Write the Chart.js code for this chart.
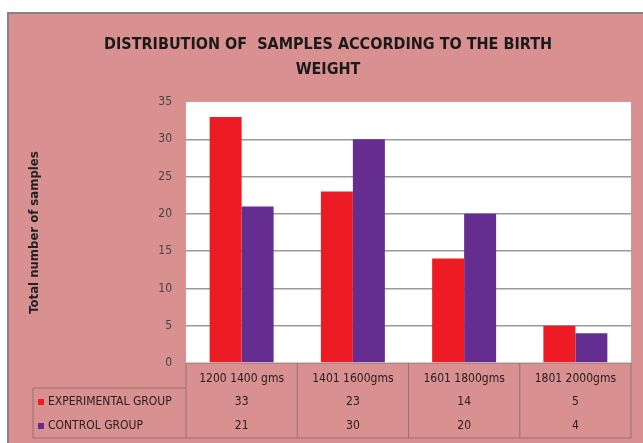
<html>
<head>
  <meta charset="utf-8"/>
  <title>Distribution of samples according to the birth weight</title>
  <script src="https://cdn.jsdelivr.net/npm/chart.js"></script>
  <style>
    body { margin: 0; background: #ffffff; }
    .chart-container { width: 643px; height: 443px; }
  </style>
</head>
<body>
  <div class="chart-container">
    <canvas id="birthChart"></canvas>
  </div>
  <script>
    const categories = ['1200 1400 gms', '1401 1600gms', '1601 1800gms', '1801 2000gms'];
    const experimentalGroup = [33, 23, 14, 5];
    const controlGroup = [21, 30, 20, 4];
    const seriesNames = ['EXPERIMENTAL GROUP', 'CONTROL GROUP'];

    const FONT = '"Liberation Sans Narrow", "DejaVu Sans Condensed", sans-serif';
    const PINK = 'rgb(216,144,144)';
    const RED = 'rgb(237,28,36)';
    const PURPLE = 'rgb(102,45,145)';

    // background, white plot area
    const backdrop = {
      id: 'backdrop',
      beforeDraw(chart) {
        const ctx = chart.ctx;
        const a = chart.chartArea;
        ctx.save();
        ctx.fillStyle = '#ffffff';
        ctx.fillRect(0, 0, chart.width, chart.height);
        ctx.fillStyle = PINK;
        ctx.fillRect(8, 13, chart.width - 8, chart.height - 13);
        ctx.strokeStyle = '#8a8080';
        ctx.lineWidth = 2;
        ctx.beginPath();
        ctx.moveTo(8, chart.height);
        ctx.lineTo(8, 13);
        ctx.lineTo(chart.width, 13);
        ctx.stroke();
        ctx.fillStyle = '#ffffff';
        ctx.fillRect(a.left, a.top, a.right - a.left, a.bottom - a.top);
        ctx.restore();
      }
    };

    // data table under the plot
    const dataTable = {
      id: 'dataTable',
      afterDraw(chart) {
        const ctx = chart.ctx;
        const a = chart.chartArea;
        const x = chart.scales.x;
        const colW = (a.right - a.left) / categories.length;
        const top = a.bottom, row1 = top + 25, bottom = top + 75, legendLeft = 33;
        ctx.save();
        ctx.strokeStyle = 'rgba(110,90,90,0.55)';
        ctx.lineWidth = 1;
        ctx.beginPath();
        ctx.moveTo(a.left, top); ctx.lineTo(a.right, top);
        ctx.moveTo(legendLeft, row1); ctx.lineTo(a.left, row1);
        ctx.moveTo(legendLeft, bottom); ctx.lineTo(a.right, bottom);
        ctx.moveTo(legendLeft, row1); ctx.lineTo(legendLeft, bottom);
        for (let i = 0; i <= categories.length; i++) {
          const lx = a.left + i * colW;
          ctx.moveTo(lx, top); ctx.lineTo(lx, bottom);
        }
        ctx.stroke();

        ctx.fillStyle = '#2a2020';
        ctx.textAlign = 'center';
        ctx.textBaseline = 'middle';
        ctx.font = '12px ' + FONT;
        const rows = [experimentalGroup, controlGroup];
        categories.forEach((c, i) => {
          const cx = x.getPixelForValue(i);
          ctx.fillText(c, cx, top + 16);
          ctx.fillText(String(rows[0][i]), cx, top + 39);
          ctx.fillText(String(rows[1][i]), cx, top + 63);
        });
        const colors = [RED, PURPLE];
        ctx.textAlign = 'left';
        seriesNames.forEach((n, j) => {
          const cy = top + 39 + j * 24;
          ctx.fillStyle = colors[j];
          ctx.fillRect(38, cy - 3, 6, 6);
          ctx.fillStyle = '#2a2020';
          ctx.fillText(n, 48, cy);
        });
        ctx.restore();
      }
    };

    new Chart(document.getElementById('birthChart').getContext('2d'), {
      type: 'bar',
      data: {
        labels: categories,
        datasets: [
          { label: seriesNames[0], data: experimentalGroup, backgroundColor: RED,
            categoryPercentage: 0.575, barPercentage: 1 },
          { label: seriesNames[1], data: controlGroup, backgroundColor: PURPLE,
            categoryPercentage: 0.575, barPercentage: 1 }
        ]
      },
      options: {
        responsive: true,
        maintainAspectRatio: false,
        animation: false,
        layout: { padding: { left: 25, right: 12, top: 0, bottom: 80 } },
        plugins: {
          legend: { display: false },
          tooltip: { enabled: false },
          title: {
            display: true,
            text: ['DISTRIBUTION OF  SAMPLES ACCORDING TO THE BIRTH', 'WEIGHT'],
            color: '#1a1a1a',
            font: { family: FONT, size: 16, weight: 'bold', lineHeight: 1.5625 },
            padding: { top: 32.5, bottom: 19.5 }
          }
        },
        scales: {
          x: { display: false },
          y: {
            min: 0, max: 35,
            ticks: { stepSize: 5, color: '#444444', padding: 14,
                     font: { family: FONT, size: 12 } },
            grid: {
              drawTicks: false,
              color: ctx => (ctx.tick.value === 0 || ctx.tick.value === 35) ? 'rgba(0,0,0,0)' : '#9a9a9a',
              lineWidth: 1.5
            },
            border: { display: false },
            title: {
              display: true,
              text: 'Total number of samples',
              color: '#222222',
              font: { family: FONT, size: 13, weight: 'bold' },
              padding: { top: 2, bottom: 0 }
            },
            afterFit(scale) { scale.width = 161; }
          }
        }
      },
      plugins: [backdrop, dataTable]
    });
  </script>
</body>
</html>
